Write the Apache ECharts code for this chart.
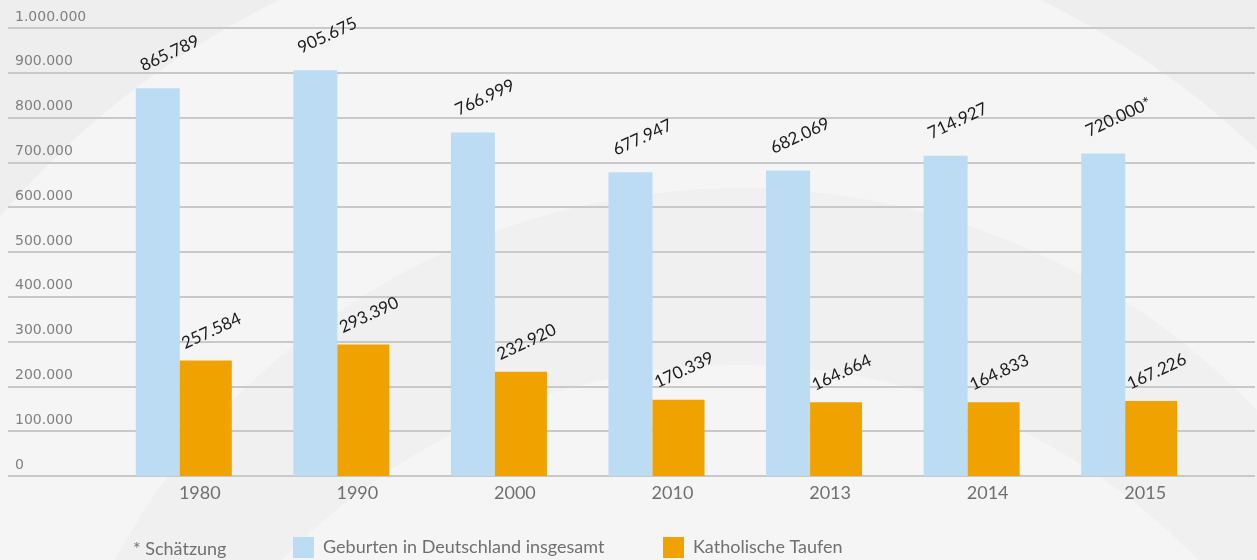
<!DOCTYPE html>
<html>
<head>
<meta charset="utf-8">
<script src="https://cdn.jsdelivr.net/npm/echarts@6/dist/echarts.min.js"></script>
<style>
    html, body { margin: 0; padding: 0; }
    #chart { width: 1257px; height: 560px; }
</style>
</head>
<body>
<div id="chart"></div>
<script>
    var jahre = ['1980', '1990', '2000', '2010', '2013', '2014', '2015'];
    var geburten = [865789, 905675, 766999, 677947, 682069, 714927, 720000];
    var geburten_note = ['', '', '', '', '', '', '*'];
    var taufen = [257584, 293390, 232920, 170339, 164664, 164833, 167226];
    var y_ticks = [0, 100000, 200000, 300000, 400000, 500000, 600000, 700000, 800000, 900000, 1000000];

    var name_geburten = 'Geburten in Deutschland insgesamt';
    var name_taufen = 'Katholische Taufen';
    var grau = '#707070';
    var schrift = 'Lato';

    function punkt(v) {//Tausenderpunkte
        return String(v).replace(/\B(?=(\d{3})+(?!\d))/g, '.');
    }

    var label_base = {
        show: true,
        position: 'top',
        distance: 0,
        rotate: 25,
        align: 'left',
        verticalAlign: 'bottom',
        color: '#1c1c1c',
        fontFamily: schrift,
        fontSize: 17
    };

    var chart = echarts.init(document.getElementById('chart'));
    chart.setOption({
        backgroundColor: '#eeeeee',
        animation: false,
        textStyle: { fontFamily: schrift },
        graphic: [
            { type: 'circle', z: -10, silent: true, shape: { cx: 660, cy: 780, r: 868 }, style: { fill: '#f5f5f5' } },
            { type: 'circle', z: -9, silent: true, shape: { cx: 740, cy: 900, r: 712 }, style: { fill: '#f0f0f0' } },
            { type: 'circle', z: -8, silent: true, shape: { cx: 740, cy: 1000, r: 635 }, style: { fill: '#f5f5f5' } },
            {
                type: 'text', left: 133, top: 540,
                style: { text: '* Schätzung', fill: grau, font: '18px ' + schrift }
            }
        ],
        grid: [
            { left: 8, right: 2, top: 28, bottom: 84 },
            { left: 105, right: 49, top: 28, bottom: 84 }
        ],
        legend: [
            {
                data: [name_geburten], left: 293, top: 537, padding: 0,
                icon: 'rect', itemWidth: 21, itemHeight: 21,
                textStyle: { color: grau, fontSize: 18, fontFamily: schrift, padding: [6, 0, 0, 4] }
            },
            {
                data: [name_taufen], left: 663, top: 537, padding: 0,
                icon: 'rect', itemWidth: 21, itemHeight: 21,
                textStyle: { color: grau, fontSize: 18, fontFamily: schrift, padding: [6, 0, 0, 4] }
            }
        ],
        xAxis: [
            { gridIndex: 0, type: 'value', show: false },
            {
                gridIndex: 1, type: 'category', data: jahre,
                axisLine: { show: false }, axisTick: { show: false },
                axisLabel: { color: grau, fontSize: 18, fontFamily: schrift, margin: 8, padding: [0, 0, 0, 32] }
            }
        ],
        yAxis: [
            {
                gridIndex: 0, type: 'value', min: 0, max: 1000000, interval: 100000,
                axisLine: { show: false }, axisTick: { show: false },
                splitLine: { lineStyle: { color: '#c9c9c9', width: 2 } },
                axisLabel: {
                    inside: true, margin: 7, verticalAlign: 'bottom', padding: [0, 0, 4, 0],
                    color: '#808080', fontSize: 14, fontFamily: 'DejaVu Sans',
                    formatter: function (v) { return punkt(v); }
                }
            },
            { gridIndex: 1, type: 'value', min: 0, max: 1000000, interval: 100000, show: false, splitLine: { show: false } }
        ],
        series: [
            {
                name: name_geburten, type: 'bar', xAxisIndex: 1, yAxisIndex: 1,
                data: geburten, barWidth: 44, barGap: '0%',
                itemStyle: { color: '#bcdcf4' },
                label: Object.assign({}, label_base, {
                    offset: [-6, -18],
                    formatter: function (p) { return punkt(p.value) + geburten_note[p.dataIndex]; }
                })
            },
            {
                name: name_taufen, type: 'bar', xAxisIndex: 1, yAxisIndex: 1,
                data: taufen, barWidth: 52, barGap: '0%',
                itemStyle: { color: '#f0a300' },
                label: Object.assign({}, label_base, {
                    offset: [-14, -16],
                    formatter: function (p) { return punkt(p.value); }
                })
            }
        ]
    });
</script>
</body>
</html>
